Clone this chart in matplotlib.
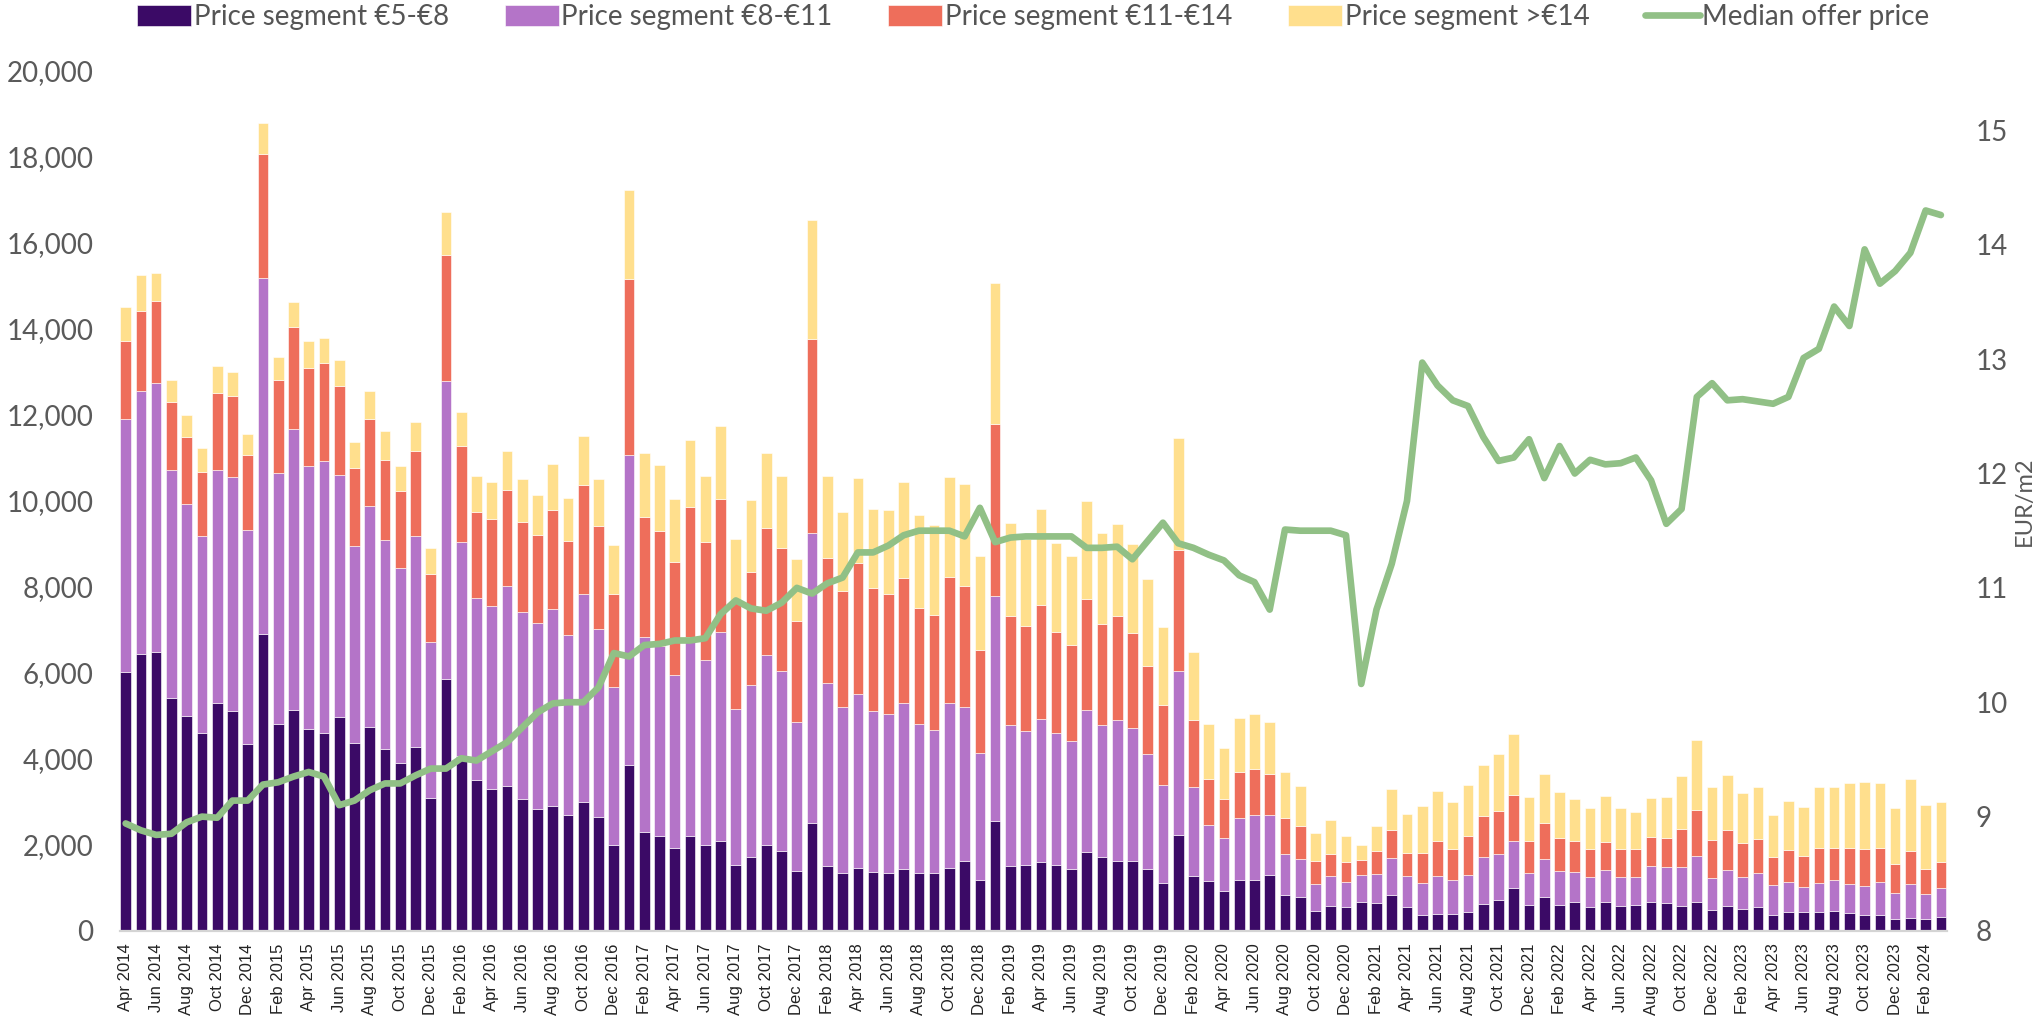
import numpy as np
import pandas as pd
import matplotlib
matplotlib.use("Agg")
import matplotlib.pyplot as plt
from matplotlib.ticker import FuncFormatter

# monthly categories, Apr 2014 - Mar 2024
months = list(pd.date_range("2014-04-01", periods=120, freq="MS").strftime("%b %Y"))

seg_5_8 = [6030, 6440, 6490, 5420, 4990, 4610, 5290, 5110, 4350,
           6900, 4810, 5140, 4700, 4610, 4980, 4380, 4740, 4220, 3910, 4270, 3100,
           5870, 4070, 3510, 3300, 3360, 3070, 2830, 2900, 2700, 2990, 2640, 2000,
           3850, 2300, 2200, 1920, 2220, 2000, 2100, 1540, 1720, 2000, 1860, 1390,
           2520, 1500, 1340, 1470, 1360, 1340, 1440, 1340, 1340, 1470, 1620, 1180,
           2560, 1520, 1540, 1600, 1540, 1430, 1840, 1720, 1620, 1630, 1430, 1120,
           2240, 1280, 1160, 930, 1190, 1180, 1310, 830, 800, 470, 590, 550,
           680, 640, 840, 560, 360, 400, 390, 430, 630, 730, 990, 610,
           790, 610, 670, 560, 670, 590, 610, 670, 650, 590, 680, 480,
           590, 510, 550, 370, 440, 440, 430, 470, 410, 360, 370, 280,
           310, 280, 320]
seg_8_11 = [5870, 6110, 6260, 5290, 4930, 4580, 5420, 5450, 4970,
            8290, 5850, 6540, 6120, 6310, 5620, 4570, 5140, 4870, 4530, 4910, 3630,
            6920, 4970, 4230, 4260, 4660, 4340, 4330, 4590, 4180, 4850, 4390, 3680,
            7210, 4540, 4430, 4030, 4620, 4310, 4860, 3620, 3990, 4420, 4180, 3460,
            6730, 4270, 3870, 4050, 3750, 3710, 3870, 3470, 3340, 3830, 3590, 2950,
            5220, 3270, 3120, 3340, 3060, 2980, 3310, 3070, 3280, 3080, 2680, 2270,
            3810, 2070, 1300, 1240, 1440, 1520, 1390, 970, 880, 630, 680, 590,
            610, 680, 850, 720, 760, 870, 800, 880, 1080, 1060, 1100, 730,
            890, 780, 710, 690, 750, 670, 640, 830, 830, 900, 1070, 750,
            820, 740, 800, 690, 690, 590, 680, 720, 680, 680, 760, 610,
            790, 570, 680]
seg_11_14 = [1830, 1870, 1910, 1600, 1560, 1480, 1790, 1880, 1750,
             2870, 2150, 2360, 2280, 2280, 2070, 1820, 2030, 1860, 1780, 1980, 1580,
             2940, 2240, 2000, 2020, 2240, 2110, 2040, 2310, 2200, 2520, 2390, 2150,
             4100, 2780, 2680, 2640, 3020, 2740, 3080, 2460, 2630, 2940, 2870, 2360,
             4510, 2900, 2700, 3040, 2860, 2780, 2900, 2710, 2670, 2940, 2820, 2400,
             4020, 2540, 2440, 2630, 2360, 2230, 2580, 2350, 2430, 2230, 2060, 1870,
             2820, 1560, 1070, 900, 1070, 1070, 960, 830, 750, 520, 530, 470,
             360, 530, 660, 530, 700, 820, 710, 910, 960, 1010, 1080, 750,
             840, 770, 710, 650, 640, 650, 650, 690, 680, 880, 1060, 880,
             930, 790, 780, 670, 760, 710, 830, 730, 830, 870, 790, 670,
             760, 600, 600]
seg_14_plus = [790, 830, 630, 510, 520, 560, 630, 550, 490,
               720, 530, 590, 630, 600, 610, 590, 650, 670, 590, 680, 590,
               990, 800, 840, 850, 910, 990, 950, 1060, 980, 1150, 1100, 1150,
               2070, 1500, 1520, 1460, 1560, 1520, 1710, 1500, 1680, 1750, 1670, 1440,
               2780, 1910, 1830, 1980, 1840, 1950, 2230, 2150, 2100, 2310, 2360, 2180,
               3270, 2150, 2020, 2240, 2060, 2070, 2280, 2120, 2140, 2070, 2020, 1800,
               2600, 1580, 1280, 1190, 1260, 1280, 1190, 1070, 950, 660, 780, 610,
               350, 580, 950, 900, 1080, 1160, 1090, 1180, 1200, 1320, 1400, 1020,
               1120, 1070, 990, 950, 1080, 950, 870, 900, 960, 1240, 1630, 1230,
               1280, 1160, 1210, 970, 1130, 1150, 1400, 1420, 1520, 1560, 1510, 1310,
               1670, 1480, 1400]
median_price = [8.94, 8.88, 8.84, 8.85, 8.95, 9.00, 8.99, 9.14, 9.14,
                9.28, 9.30, 9.35, 9.39, 9.35, 9.10, 9.14, 9.23, 9.29, 9.29, 9.36, 9.42,
                9.42, 9.51, 9.49, 9.57, 9.65, 9.78, 9.91, 9.99, 10.00, 10.00, 10.13, 10.43,
                10.40, 10.50, 10.51, 10.54, 10.54, 10.56, 10.77, 10.89, 10.82, 10.80, 10.87, 11.00,
                10.95, 11.04, 11.09, 11.31, 11.31, 11.37, 11.46, 11.50, 11.50, 11.50, 11.45, 11.70,
                11.40, 11.44, 11.45, 11.45, 11.45, 11.45, 11.35, 11.35, 11.36, 11.25, 11.41, 11.57,
                11.39, 11.35, 11.29, 11.24, 11.11, 11.05, 10.81, 11.51, 11.50, 11.50, 11.50, 11.46,
                10.16, 10.81, 11.21, 11.76, 12.97, 12.77, 12.64, 12.59, 12.32, 12.11, 12.14, 12.30,
                11.96, 12.24, 12.00, 12.12, 12.08, 12.09, 12.14, 11.94, 11.56, 11.69, 12.67, 12.79,
                12.64, 12.65, 12.63, 12.61, 12.67, 13.01, 13.09, 13.46, 13.29, 13.96, 13.66, 13.77,
                13.93, 14.30, 14.26]

labels = ["Price segment €5-€8", "Price segment €8-€11",
          "Price segment €11-€14", "Price segment >€14"]
colors = ["#3b0a66", "#b474c8", "#ee6e5b", "#ffdf8d"]

plt.rcParams["font.family"] = ["Lato", "DejaVu Sans"]

fig = plt.figure(figsize=(20.34, 10.18), dpi=100)
ax = fig.add_axes([0.059, 0.0855, 0.898, 0.8448])
x = np.arange(len(months))

bottom = np.zeros(len(months))
for vals, lab, col in zip([seg_5_8, seg_8_11, seg_11_14, seg_14_plus], labels, colors):
    ax.bar(x, vals, bottom=bottom, width=0.7, color=col, label=lab,
           edgecolor="white", linewidth=0.4)
    bottom += np.array(vals)

ax.set_xlim(-0.37, len(months) - 1 + 0.37)
ax.set_ylim(0, 20000)
ax.set_yticks(np.arange(0, 20001, 2000))
ax.yaxis.set_major_formatter(FuncFormatter(lambda v, p: f"{int(v):,}"))
ax.tick_params(axis="y", length=0, pad=19, labelsize=20, labelcolor="#5a5a5a")
ax.set_xticks(x[::2])
ax.set_xticklabels(months[::2], rotation=90, fontsize=12, color="#222222",
                   family=["Liberation Sans", "DejaVu Sans"])
ax.tick_params(axis="x", length=0, pad=9)
for s in ["top", "right", "left"]:
    ax.spines[s].set_visible(False)
ax.spines["bottom"].set_color("#d4d4d4")
ax.spines["bottom"].set_linewidth(1.6)

ax2 = ax.twinx()
ax2.plot(x, median_price, color="#91c086", lw=4.8, solid_joinstyle="round",
         solid_capstyle="round", label="Median offer price")
ax2.set_ylim(8, 15.52)
ax2.set_yticks(np.arange(8, 16, 1))
ax2.tick_params(axis="y", length=0, pad=21, labelsize=20, labelcolor="#5a5a5a")
ax2.set_ylabel("EUR/m2", fontsize=17, color="#5a5a5a", labelpad=4)
for s in ["top", "right", "left", "bottom"]:
    ax2.spines[s].set_visible(False)

h1, l1 = ax.get_legend_handles_labels()
h2, l2 = ax2.get_legend_handles_labels()
fig.legend(h1 + h2, l1 + l2, loc="center", bbox_to_anchor=(0.508, 0.983), ncol=5,
           frameon=False, fontsize=20, handlelength=1.95, handleheight=0.8,
           handletextpad=0.1, columnspacing=2.0, labelcolor="#555555")

fig.savefig("out.png", dpi=100)
